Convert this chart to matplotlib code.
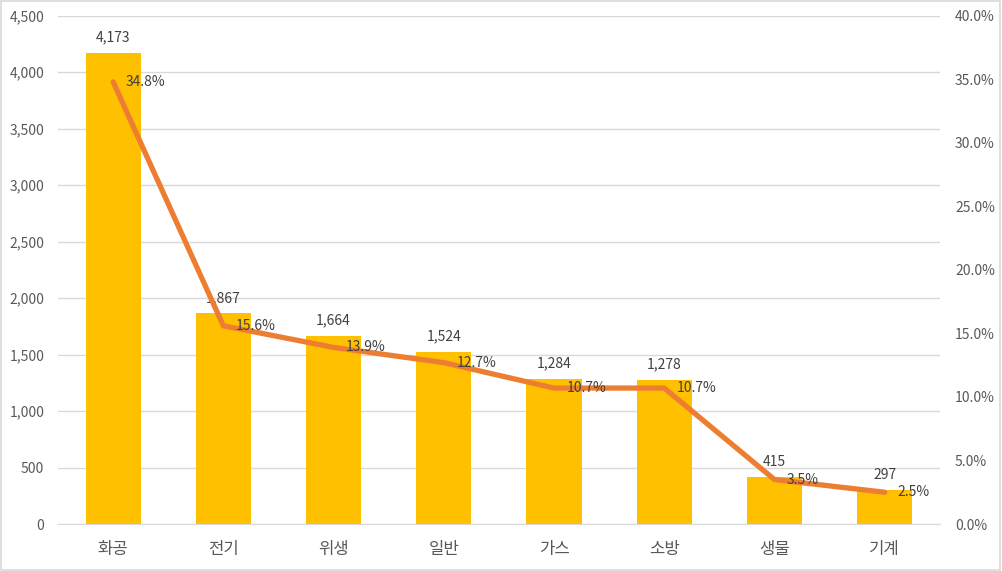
import matplotlib
matplotlib.use("Agg")
import matplotlib.pyplot as plt
from matplotlib.ticker import FuncFormatter, MultipleLocator
from matplotlib.patches import Rectangle

plt.rcParams['font.family'] = ['Noto Sans CJK KR', 'DejaVu Sans']

categories = ['화공', '전기', '위생', '일반', '가스', '소방', '생물', '기계']
counts = [4173, 1867, 1664, 1524, 1284, 1278, 415, 297]
shares = [34.8, 15.6, 13.9, 12.7, 10.7, 10.7, 3.5, 2.5]

bar_color = '#FFC000'
line_color = '#ED7D31'
text_color = '#404040'
tick_color = '#595959'
grid_color = '#D9D9D9'

fig = plt.figure(figsize=(10.02, 5.71), dpi=100)
ax = fig.add_axes([0.0579, 0.0823, 0.880, 0.890])
ax2 = ax.twinx()

x = list(range(len(categories)))
ax.bar(x, counts, width=0.5, color=bar_color, zorder=2)
ax.set_xlim(-0.5, len(categories) - 0.5)
ax.set_ylim(0, 4500)
ax.yaxis.set_major_locator(MultipleLocator(500))
ax.yaxis.set_major_formatter(FuncFormatter(lambda v, p: f"{int(v):,}"))
ax.grid(axis='y', color=grid_color, linewidth=1, zorder=0)
ax.set_axisbelow(True)
ax.set_xticks(x)
ax.set_xticklabels(categories, fontsize=12, color=tick_color)
ax.tick_params(axis='x', length=0, pad=12)
ax.tick_params(axis='y', length=0, labelsize=10, labelcolor=tick_color, pad=10)
for s in ax.spines.values():
    s.set_visible(False)
ax.spines['bottom'].set_visible(True)
ax.spines['bottom'].set_color(grid_color)

for xi, c in zip(x, counts):
    ax.annotate(f"{c:,}", (xi, c), xytext=(0, 6), textcoords='offset points',
                ha='center', va='bottom', fontsize=10, color=text_color, zorder=5)

ax2.plot(x, shares, color=line_color, linewidth=3.8, solid_capstyle='round', zorder=3)
ax2.set_ylim(0, 40)
ax2.yaxis.set_major_locator(MultipleLocator(5))
ax2.yaxis.set_major_formatter(FuncFormatter(lambda v, p: f"{v:.1f}%"))
ax2.tick_params(axis='y', length=0, labelsize=10, labelcolor=tick_color, pad=11)
for s in ax2.spines.values():
    s.set_visible(False)
for xi, s in zip(x, shares):
    ax2.annotate(f"{s:.1f}%", (xi, s), xytext=(9, 0), textcoords='offset points',
                 ha='left', va='center', fontsize=10, color=text_color, zorder=5)

fig.patches.append(Rectangle((0.001, 0.002), 0.997, 0.996, transform=fig.transFigure,
                             fill=False, edgecolor='#D9D9D9', linewidth=1.2))

fig.savefig('out.png', dpi=100)
